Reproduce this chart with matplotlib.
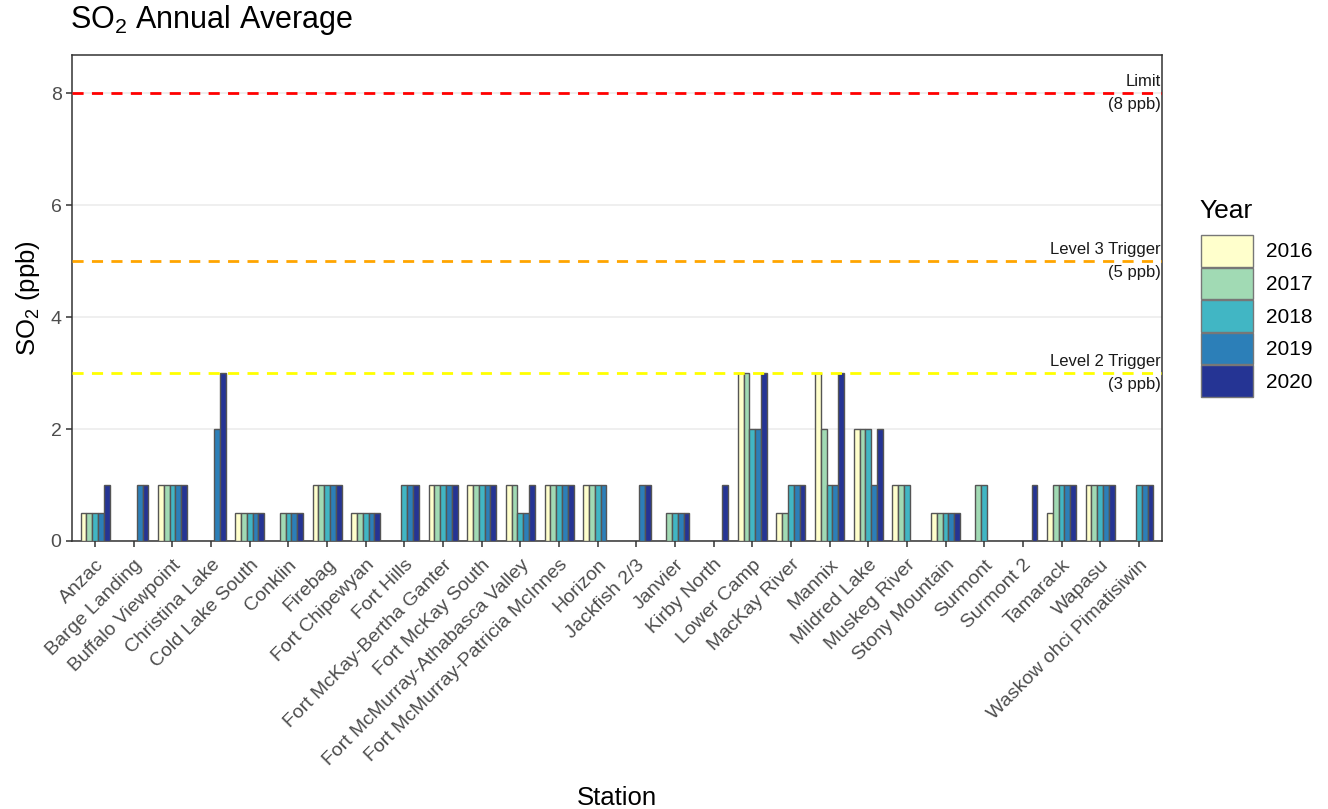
import matplotlib.pyplot as plt
from matplotlib.patches import Patch
import numpy as np

plt.rcParams['font.family'] = ['Liberation Sans', 'DejaVu Sans']
plt.rcParams['mathtext.default'] = 'regular'

nan = np.nan

stations = ['Anzac', 'Barge Landing', 'Buffalo Viewpoint', 'Christina Lake',
            'Cold Lake South', 'Conklin', 'Firebag', 'Fort Chipewyan', 'Fort Hills',
            'Fort McKay-Bertha Ganter', 'Fort McKay South',
            'Fort McMurray-Athabasca Valley', 'Fort McMurray-Patricia McInnes',
            'Horizon', 'Jackfish 2/3', 'Janvier', 'Kirby North', 'Lower Camp',
            'MacKay River', 'Mannix', 'Mildred Lake', 'Muskeg River',
            'Stony Mountain', 'Surmont', 'Surmont 2', 'Tamarack', 'Wapasu',
            'Waskow ohci Pimatisiwin']

years = ['2016', '2017', '2018', '2019', '2020']

so2_2016 = [0.5, nan, 1, nan, 0.5, nan, 1, 0.5, nan, 1, 1, 1, 1, 1, nan, nan, nan,
            3, 0.5, 3, 2, 1, 0.5, nan, nan, 0.5, 1, nan]
so2_2017 = [0.5, nan, 1, nan, 0.5, 0.5, 1, 0.5, nan, 1, 1, 1, 1, 1, nan, 0.5, nan,
            3, 0.5, 2, 2, 1, 0.5, 1, nan, 1, 1, nan]
so2_2018 = [0.5, nan, 1, nan, 0.5, 0.5, 1, 0.5, 1, 1, 1, 0.5, 1, 1, nan, 0.5, nan,
            2, 1, 1, 2, 1, 0.5, 1, nan, 1, 1, 1]
so2_2019 = [0.5, 1, 1, 2, 0.5, 0.5, 1, 0.5, 1, 1, 1, 0.5, 1, 1, 1, 0.5, nan,
            2, 1, 1, 1, nan, 0.5, nan, nan, 1, 1, 1]
so2_2020 = [1, 1, 1, 3, 0.5, 0.5, 1, 0.5, 1, 1, 1, 1, 1, nan, 1, 0.5, 1,
            3, 1, 3, 2, nan, 0.5, nan, 1, 1, 1, 1]
series = [so2_2016, so2_2017, so2_2018, so2_2019, so2_2020]

colors = ['#FFFFCC', '#A1DAB4', '#41B6C4', '#2C7FB8', '#253494']

ref_values = [8, 5, 3]
ref_colors = ['#FF0000', '#FFA500', '#FFFF00']
ref_labels = ['Limit\n(8 ppb)', 'Level 3 Trigger\n(5 ppb)', 'Level 2 Trigger\n(3 ppb)']

fig = plt.figure(figsize=(13.28, 8.09), dpi=100)
ax = fig.add_axes([0.0542, 0.3313, 0.8208, 0.6007])

x = np.arange(len(stations))
w = 0.15
for j, vals in enumerate(series):
    ax.bar(x + (j - 2) * w, vals, width=w, color=colors[j],
           edgecolor='#555555', linewidth=1.0, zorder=3)

# reference lines with two-line labels at the right edge
for v, c, lab in zip(ref_values, ref_colors, ref_labels):
    ax.axhline(v, color=c, linestyle=(0, (4, 3)), linewidth=2, zorder=4)
    top, bot = lab.split('\n')
    ax.text(27.57, v + 0.07, top, ha='right', va='bottom', fontsize=12, color='#1a1a1a')
    ax.text(27.57, v - 0.07, bot, ha='right', va='top', fontsize=12, color='#1a1a1a')

ax.set_xlim(-0.6, 27.6)
ax.set_ylim(0, 8.68)
ax.set_yticks([0, 2, 4, 6, 8])
ax.set_xticks(x)
ax.set_xticklabels(stations, rotation=45, ha='right', rotation_mode='anchor')
ax.tick_params(axis='both', labelsize=14, labelcolor='#4D4D4D', color='#333333',
               length=4, width=1.1)
ax.tick_params(axis='x', pad=7)
ax.grid(axis='y', color='#EBEBEB', linewidth=1.1, zorder=0)
ax.set_axisbelow(True)
for s in ax.spines.values():
    s.set_color('#333333')
    s.set_linewidth(1.1)

ax.set_xlabel('Station', fontsize=18.5, labelpad=12)
ax.set_ylabel('SO$_2$ (ppb)', fontsize=18.5, labelpad=6)
fig.text(0.053, 0.975, 'SO$_2$ Annual Average', fontsize=22, ha='left', va='center')

# legend: title placed separately so the gap to the keys matches
fig.text(0.9036, 0.739, 'Year', fontsize=19, ha='left', va='center')
handles = [Patch(facecolor=c, edgecolor='#777777', linewidth=1) for c in colors]
fig.legend(handles, years, loc='upper left',
           bbox_to_anchor=(0.9044, 0.7095), frameon=False, fontsize=15,
           borderpad=0, borderaxespad=0, handlelength=2.5, handleheight=1.95,
           labelspacing=0.05, handletextpad=0.6)

plt.savefig('out.png', dpi=100)
